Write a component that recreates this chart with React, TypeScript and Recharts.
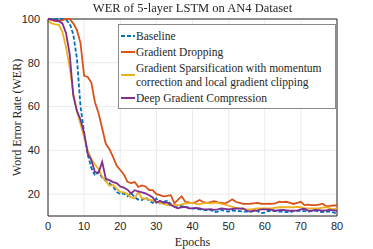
import { LineChart, Line, XAxis, YAxis, CartesianGrid, Legend, ReferenceLine } from 'recharts'

const EPOCHS = Array.from({ length: 81 }, (_, i) => i)

const BASELINE = [
  100, 100, 100, 100, 100, 99.5, 98, 93, 82, 60,
  48, 38, 32, 28.5, 30, 27.5, 26, 25, 23.5, 21,
  20, 20.3, 19, 20.5, 18.5, 17.5, 17.3, 18.5, 17, 16,
  18, 15.8, 16.5, 17, 15.5, 14.8, 14.5, 14.5, 14.2, 13.8,
  13.5, 13.3, 13, 12.8, 12.7, 12.8, 11.8, 12, 12.8, 12.3,
  12, 12.5, 12.4, 12.2, 12, 12, 12, 12.3, 12.3, 11.3,
  11.5, 12.4, 12.2, 12.3, 12, 12, 11.8, 11.7, 12.2, 12.4,
  12.3, 12.2, 12, 12.2, 12.4, 12, 11.8, 12, 12, 11.6,
  11,
]

const GRAD_DROP = [
  100, 99.5, 99, 99, 99.5, 100, 100, 98, 95, 89,
  74, 73.5, 71, 62, 57, 50, 43, 40.5, 37, 33,
  31, 29, 25.6, 25, 25.5, 23.3, 24, 23.5, 21.8, 21.8,
  20, 19.5, 19, 19.2, 19.5, 15.8, 17.5, 19, 16.5, 16.2,
  15.8, 16.5, 17.3, 16.3, 16, 16.3, 16.8, 16.2, 16, 15.8,
  16.5, 17.6, 16.5, 16, 15.5, 15.5, 15.6, 15.8, 16, 15.6,
  15.5, 15.6, 15.5, 15.8, 16.5, 16.3, 16.5, 16, 15.5, 16,
  16.5, 15, 15.2, 15, 15, 15.2, 15.6, 14.5, 14.6, 14.8,
  14.8,
]

const GRAD_SPARSE = [
  99, 98, 97.5, 97.3, 94, 87, 78, 66, 58, 52,
  46, 40, 36, 33.5, 31.5, 28, 26, 23.8, 24.2, 22.5,
  21, 20.8, 20, 18.5, 18, 21, 18, 18, 17.5, 17,
  16.5, 16, 15.5, 15, 15, 15, 15, 15.3, 15.8, 15.9,
  16, 15.5, 15.4, 15.8, 16, 15.8, 16, 16, 15.5, 15.2,
  14.8, 14.2, 13.8, 13.5, 13.2, 13, 13, 13.2, 13.5, 13.5,
  13.5, 13.5, 13.5, 13.8, 14, 14, 14, 14, 14, 14.2,
  14, 13.5, 13.5, 13.5, 13.5, 13.5, 13.8, 14, 13.5, 13,
  13.5,
]

const DGC = [
  100, 99.8, 99.5, 99, 98, 93.5, 84, 65, 58, 54,
  48, 38.5, 35.5, 30, 29.8, 34.7, 27, 26.4, 25.5, 25,
  23.5, 23, 22, 20.3, 21.8, 21.2, 20.8, 20.3, 19.5, 18.5,
  16, 17, 16, 16.2, 15, 14.2, 13.5, 14, 14.2, 13.5,
  13.5, 13.7, 13.5, 13, 13, 13.1, 12.8, 13, 13.5, 13.3,
  13, 13.2, 13.5, 13.4, 13.5, 12.5, 12, 12.4, 12.6, 13,
  13, 13, 12.8, 12.4, 12.7, 12.8, 12.6, 12.4, 12.5, 12.5,
  13, 13.3, 12.5, 12.4, 12.8, 12.7, 12.4, 12.6, 12.8, 12.6,
  12.4,
]

const X_TICKS = [0, 10, 20, 30, 40, 50, 60, 70, 80]
const Y_TICKS = [20, 40, 60, 80, 100]

const SERIES = [
  { key: 'baseline', name: 'Baseline', color: '#0072BD', dash: '4 2' },
  { key: 'drop', name: 'Gradient Dropping', color: '#D95319', dash: undefined },
  { key: 'sparse', name: 'Gradient Sparsification with momentum|correction and local gradient clipping', color: '#EDB120', dash: undefined },
  { key: 'dgc', name: 'Deep Gradient Compression', color: '#7E2F8E', dash: undefined },
]

const data = EPOCHS.map((e, i) => ({
  epoch: e,
  baseline: BASELINE[i],
  drop: GRAD_DROP[i],
  sparse: GRAD_SPARSE[i],
  dgc: DGC[i],
}))

const axisColor = '#262626'
const serif = '"Liberation Serif", "Times New Roman", serif'
const sans = '"Liberation Sans", Arial, sans-serif'

// legend drawn as a MATLAB-style box in the upper right of the axes
function LegendBox() {
  return (
    <div
      style={{
        width: 218,
        height: 85,
        boxSizing: 'border-box',
        border: '1px solid #8a8a8a',
        background: '#fff',
        fontFamily: serif,
        fontSize: 11.5,
        color: axisColor,
        padding: '2px 0 0 2px',
        lineHeight: '14px',
        textAlign: 'left',
      }}
    >
      {SERIES.map((s) => {
        const lines = s.name.split('|')
        return (
          <div key={s.key} style={{ display: 'flex', alignItems: 'center', margin: '2px 0' }}>
            <svg width={14} height={6} style={{ flex: 'none' }}>
              <line x1={0} y1={3} x2={14} y2={3} stroke={s.color} strokeWidth={2} strokeDasharray={s.dash} />
            </svg>
            <div style={{ marginLeft: 1, fontFamily: serif }}>
              {lines.map((l) => (
                <div key={l} style={{ whiteSpace: 'nowrap', fontFamily: serif }}>{l}</div>
              ))}
            </div>
          </div>
        )
      })}
    </div>
  )
}

export default function App() {
  return (
    <div style={{ position: 'fixed', left: 0, top: 0, background: '#fff' }}>
      <div
        style={{
          position: 'absolute',
          left: 0,
          width: 385,
          top: 1,
          textAlign: 'center',
          fontFamily: serif,
          fontSize: 12.5,
          color: axisColor,
          zIndex: 1,
        }}
      >
        WER of 5-layer LSTM on AN4 Dataset
      </div>
      <LineChart width={373} height={249} data={data} margin={{ top: 19, right: 36, left: 0, bottom: 0 }}>
        <CartesianGrid stroke="#e6e6e6" strokeWidth={0.8} />
        <XAxis
          dataKey="epoch"
          type="number"
          domain={[0, 80]}
          ticks={X_TICKS}
          height={33}
          tickLine={false}
          tickMargin={0}
          stroke={axisColor}
          tick={{ fill: axisColor, fontSize: 11, fontFamily: sans }}
          label={{ value: 'Epochs', position: 'insideBottom', offset: 3, fill: axisColor, fontSize: 12, fontFamily: serif }}
        />
        <YAxis
          type="number"
          domain={[10, 100]}
          ticks={Y_TICKS}
          width={48}
          tickLine={false}
          stroke={axisColor}
          tick={{ fill: axisColor, fontSize: 11, fontFamily: sans }}
          label={{ value: 'Word Error Rate (WER)', angle: -90, position: 'center', dx: -7, fill: axisColor, fontSize: 12, fontFamily: serif }}
        />
        <ReferenceLine y={100} stroke={axisColor} />
        <ReferenceLine x={80} stroke={axisColor} />
        {SERIES.map((s) => (
          <Line
            key={s.key}
            dataKey={s.key}
            name={s.name}
            stroke={s.color}
            strokeWidth={1.8}
            strokeDasharray={s.dash}
            dot={false}
            isAnimationActive={false}
          />
        ))}
        <Legend
          layout="horizontal"
          verticalAlign="middle"
          align="center"
          content={<LegendBox />}
          wrapperStyle={{ left: 118, top: 24, width: 218, height: 85 }}
        />
      </LineChart>
    </div>
  )
}
